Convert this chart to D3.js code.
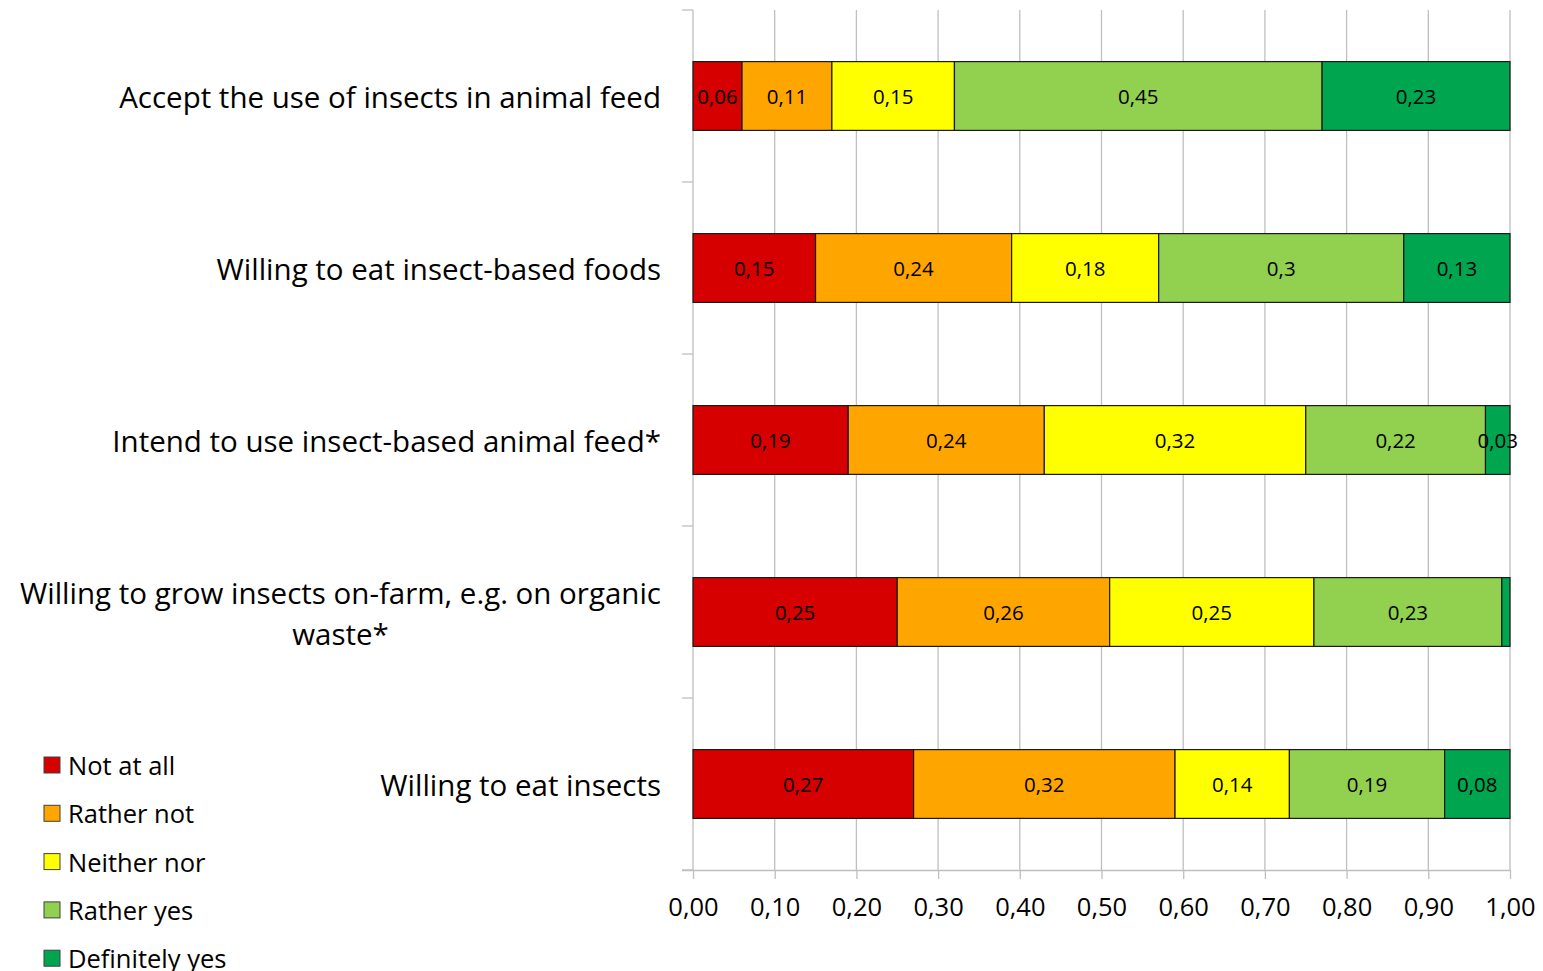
<!DOCTYPE html>
<html>
<head>
<meta charset="utf-8">
<script src="https://cdn.jsdelivr.net/npm/d3@7"></script>
<style>
  html, body { margin: 0; padding: 0; background: #fff; }
  svg { display: block; font-family: "Open Sans", "Noto Sans", sans-serif; }
</style>
</head>
<body>
<svg id="chart" width="1543" height="971"></svg>
<script>
// Survey items (top to bottom); "\n" marks a manual line break
const categories = [
  "Accept the use of insects in animal feed",
  "Willing to eat insect-based foods",
  "Intend to use insect-based animal feed*",
  "Willing to grow insects on-farm, e.g. on organic\nwaste*",
  "Willing to eat insects"
];
const seriesNames = ["Not at all", "Rather not", "Neither nor", "Rather yes", "Definitely yes"];
const seriesColors = ["#d60000", "#ffa500", "#ffff00", "#92d050", "#00a550"];

// Share of responses per answer, one array per answer, aligned with categories
const notAtAll      = [0.06, 0.15, 0.19, 0.25, 0.27];
const ratherNot     = [0.11, 0.24, 0.24, 0.26, 0.32];
const neitherNor    = [0.15, 0.18, 0.32, 0.25, 0.14];
const ratherYes     = [0.45, 0.30, 0.22, 0.23, 0.19];
const definitelyYes = [0.23, 0.13, 0.03, 0.01, 0.08];
// [category index, series index] of values not printed on the bar
const hiddenLabels = [[3, 4]];

const xTicks = [0, 0.1, 0.2, 0.3, 0.4, 0.5, 0.6, 0.7, 0.8, 0.9, 1.0];

const series = [notAtAll, ratherNot, neitherNor, ratherYes, definitelyYes];
const rows = categories.map((c, i) => {
  const r = { category: c };
  seriesNames.forEach((s, j) => { r[s] = series[j][i]; });
  return r;
});
const stacked = d3.stack().keys(seriesNames)(rows);

const svg = d3.select("#chart");
const x = d3.scaleLinear().domain([0, 1]).range([693, 1510]);
const y = d3.scaleBand().domain(categories).range([10, 870]).paddingInner(0.6).paddingOuter(0.3);
const band = d3.scaleBand().domain(categories).range([10, 870]);

const fmt = v => d3.format(".2f")(v).replace(".", ",");
const fmtLabel = v => String(+v.toFixed(2)).replace(".", ",");

// vertical gridlines
svg.append("g")
  .selectAll("line")
  .data(xTicks.slice(1))
  .join("line")
  .attr("x1", d => x(d)).attr("x2", d => x(d))
  .attr("y1", 10).attr("y2", 870)
  .attr("stroke", "#bfbfbf").attr("stroke-width", 1.3);

// bottom axis
const xAxis = svg.append("g")
  .attr("transform", "translate(0,870)")
  .call(d3.axisBottom(x).tickValues(xTicks).tickSize(9).tickSizeOuter(0).tickPadding(19).tickFormat(fmt));
xAxis.select(".domain").attr("stroke", "#bfbfbf").attr("stroke-width", 1.3).attr("d", "M682,0.5H1510");
xAxis.selectAll(".tick line").attr("stroke", "#bfbfbf").attr("stroke-width", 1.3);
xAxis.selectAll(".tick text").attr("font-size", 25.5).attr("fill", "#000")
  .attr("font-family", "'Open Sans', sans-serif");

// left axis (category boundaries)
const yAxis = svg.append("g").attr("transform", "translate(693,0)");
yAxis.append("line").attr("x1", 0).attr("x2", 0).attr("y1", 10).attr("y2", 870)
  .attr("stroke", "#bfbfbf").attr("stroke-width", 1.3);
const boundaries = categories.map(c => band(c)).concat([870]);
yAxis.selectAll(".b").data(boundaries).join("line")
  .attr("x1", -11).attr("x2", 0)
  .attr("y1", d => d).attr("y2", d => d)
  .attr("stroke", "#bfbfbf").attr("stroke-width", 1.3);

// bars
const layers = svg.append("g").selectAll("g")
  .data(stacked)
  .join("g")
  .attr("fill", (d, i) => seriesColors[i]);

layers.selectAll("rect")
  .data(d => d)
  .join("rect")
  .attr("x", d => x(d[0]))
  .attr("width", d => x(d[1]) - x(d[0]))
  .attr("y", d => y(d.data.category))
  .attr("height", y.bandwidth())
  .attr("stroke", "#1a1a1a").attr("stroke-width", 1.2);

// value labels
const labelG = svg.append("g");
stacked.forEach((layer, si) => {
  layer.forEach((d, ci) => {
    if (hiddenLabels.some(h => h[0] === ci && h[1] === si)) return;
    labelG.append("text")
      .attr("x", (x(d[0]) + x(d[1])) / 2)
      .attr("y", y(d.data.category) + y.bandwidth() / 2)
      .attr("text-anchor", "middle")
      .attr("dominant-baseline", "central")
      .attr("font-size", 20.5)
      .attr("fill", "#000")
      .text(fmtLabel(d[1] - d[0]));
  });
});

// category labels
const catSize = 29.5;
const catG = svg.append("g");
categories.forEach(c => {
  const lines = c.split("\n");
  const cy = band(c) + band.bandwidth() / 2;
  const lh = 41;
  const t = catG.append("text")
    .attr("font-size", catSize)
    .attr("fill", "#000")
    .attr("dominant-baseline", "central");
  if (lines.length === 1) {
    t.attr("x", 661).attr("y", cy).attr("text-anchor", "end").text(c);
  } else {
    // centre the wrapped lines under the first line, right-aligned block
    t.attr("text-anchor", "middle");
    const tmp = catG.append("text").attr("font-size", catSize).text(lines[0]);
    const w = tmp.node().getComputedTextLength();
    tmp.remove();
    const cx = 661 - w / 2;
    lines.forEach((ln, k) => {
      t.append("tspan")
        .attr("x", cx)
        .attr("y", cy - lh / 2 * (lines.length - 1) + k * lh)
        .text(ln);
    });
  }
});

// legend
const legend = svg.append("g");
seriesNames.forEach((s, i) => {
  const ly = 765 + i * 48.3;
  legend.append("rect")
    .attr("x", 44).attr("y", ly - 8).attr("width", 16).attr("height", 16)
    .attr("fill", seriesColors[i]).attr("stroke", "#404040").attr("stroke-width", 1);
  legend.append("text")
    .attr("x", 68).attr("y", ly)
    .attr("dominant-baseline", "central")
    .attr("font-size", 25.5).attr("fill", "#000")
    .text(s);
});
</script>
</body>
</html>
